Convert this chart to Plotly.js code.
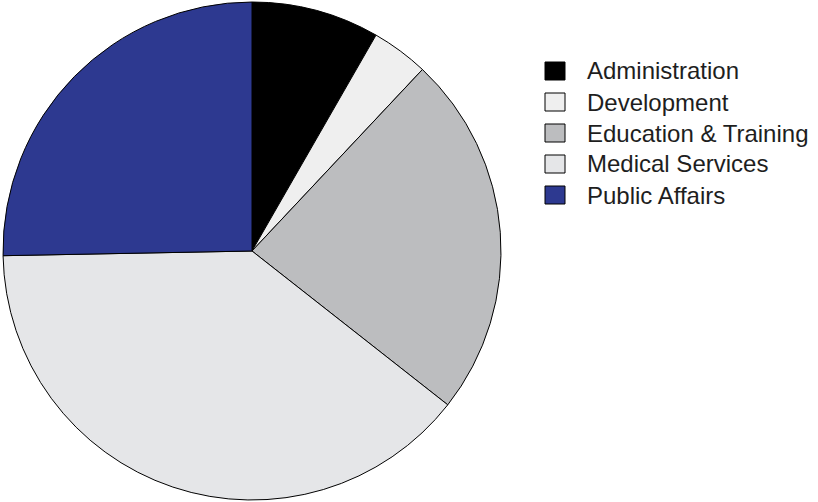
<!DOCTYPE html>
<html>
<head>
<meta charset="utf-8">
<script src="https://cdn.plot.ly/plotly-3.0.1.min.js"></script>
<style>html,body{margin:0;padding:0;background:#fff;}#chart{width:818px;height:502px;}</style>
</head>
<body>
<div id="chart"></div>
<script>
const categories = ["Administration", "Development", "Education & Training", "Medical Services", "Public Affairs"];
const values = [8.3, 3.7, 23.6, 39.1, 25.3];
const colors = ["#000000", "#efefef", "#bcbdbf", "#e5e6e8", "#2d3990"];

const W = 818, H = 502;
const shapes = [];
const annotations = [];
categories.forEach((c, i) => {
  const cy = 71 + i * 31;
  shapes.push({
    type: "rect", xref: "paper", yref: "paper",
    x0: 545 / W, x1: 565 / W,
    y0: 1 - (cy + 9) / H, y1: 1 - (cy - 9) / H,
    fillcolor: colors[i], line: {color: "#000", width: 1}
  });
  annotations.push({
    xref: "paper", yref: "paper", x: 585 / W, y: 1 - cy / H,
    xanchor: "left", yanchor: "middle", showarrow: false,
    text: c, font: {family: "Liberation Sans, Arial, sans-serif", size: 24, color: "#1e1e1e"}
  });
});

Plotly.newPlot("chart", [{
  type: "pie",
  labels: categories,
  values: values,
  sort: false,
  direction: "clockwise",
  rotation: 0,
  textinfo: "none",
  hoverinfo: "label+percent",
  marker: {colors: colors, line: {color: "#000", width: 1}},
  domain: {x: [0, 504 / W], y: [0.004, 0.996]},
  showlegend: false
}], {
  width: W, height: H,
  margin: {l: 0, r: 0, t: 0, b: 0},
  paper_bgcolor: "#fff",
  showlegend: false,
  shapes: shapes,
  annotations: annotations
}, {displayModeBar: false, staticPlot: true});
</script>
</body>
</html>
